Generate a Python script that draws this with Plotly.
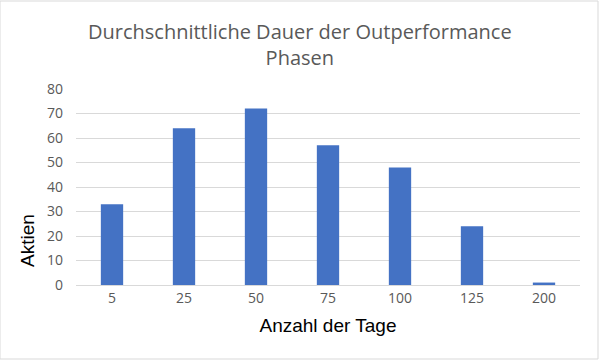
import plotly.graph_objects as go

categories = ["5", "25", "50", "75", "100", "125", "200"]
values = [33, 64, 72, 57, 48, 24, 1]
y_ticks = [0, 10, 20, 30, 40, 50, 60, 70, 80]

fig = go.Figure(go.Bar(x=categories, y=values, marker_color="#4472C4", marker_line_width=0))

PH = 196.0
PW = 504.0

fig.update_layout(
    width=599, height=360,
    margin=dict(l=76, r=19, t=89, b=75),
    paper_bgcolor="white", plot_bgcolor="white",
    bargap=0.69,
    showlegend=False,
    font=dict(family="Open Sans, sans-serif", color="#595959"),
    xaxis=dict(type="category", tickfont=dict(size=14, color="#595959"),
               showline=True, linecolor="#D9D9D9", linewidth=1, ticks="",
               title=dict(text="Anzahl der Tage", font=dict(size=19, color="black",
                          family="Liberation Sans, Arial, sans-serif"), standoff=12)),
    yaxis=dict(range=[0, 80], tickvals=y_ticks, tickfont=dict(size=14, color="#595959"),
               showgrid=True, gridcolor="#D9D9D9", gridwidth=1, zeroline=False,
               ticks="", ticklabelstandoff=12),
    annotations=[
        dict(text="Durchschnittliche Dauer der Outperformance<br>Phasen",
             xref="paper", yref="paper", x=0.5 - 76/PW/2 + 19/PW/2, y=1 + (89 - 44)/PH,
             xanchor="center", yanchor="middle", showarrow=False,
             font=dict(size=20, color="#595959", family="Open Sans, sans-serif")),
        dict(text="Aktien", xref="paper", yref="paper", x=-(76 - 27)/PW, y=(285 - 241)/PH,
             xanchor="center", yanchor="middle", textangle=-90, showarrow=False,
             font=dict(size=19, color="black", family="Liberation Sans, Arial, sans-serif")),
    ],
    shapes=[dict(type="rect", xref="paper", yref="paper", x0=-76/PW, x1=1+18/PW,
                 y0=-74/PH, y1=1+88/PH, line=dict(color="#D9D9D9", width=1))],
)

fig.write_html("out.html")
